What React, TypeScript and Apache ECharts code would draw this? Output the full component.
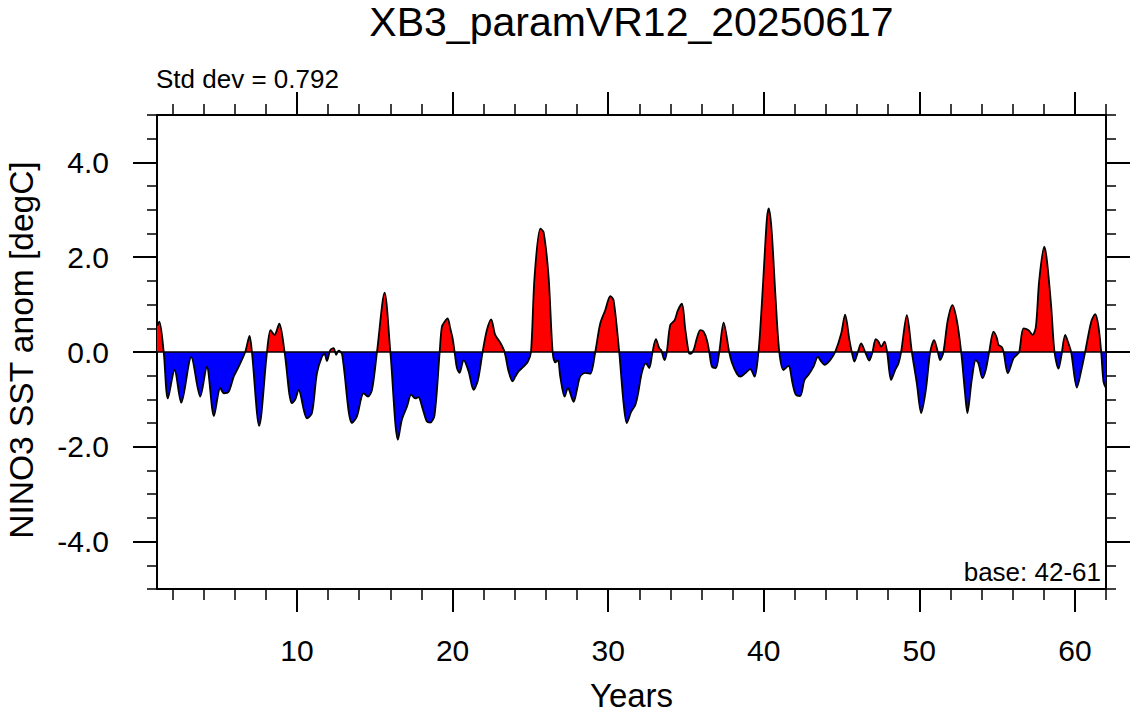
import React, { useEffect, useRef } from "react";
import * as echarts from "echarts";

// [year, NINO3 SST anomaly (degC)]
const nino3Anomaly: [number, number][] = [
  [1.0, 0.55], [1.15, 0.64], [1.43, 0], [1.7, -0.98], [2.13, -0.38], [2.56, -1.07],
  [3.2, -0.11], [3.78, -0.94], [4.2, -0.31], [4.66, -1.35], [5.07, -0.76], [5.3, -0.87],
  [5.6, -0.84], [5.93, -0.52], [6.25, -0.31], [6.67, 0], [6.95, 0.34], [7.1, 0],
  [7.57, -1.56], [8.07, 0], [8.3, 0.46], [8.55, 0.36], [8.86, 0.6], [9.2, 0],
  [9.67, -1.08], [9.89, -1.0], [10.1, -0.8], [10.64, -1.4], [10.96, -1.29], [11.28, -0.45],
  [11.6, -0.1], [11.77, -0.04], [11.92, -0.19], [12.14, 0.04], [12.35, 0.08], [12.52, -0.06],
  [12.67, 0.03], [12.89, -0.04], [13.53, -1.5], [13.85, -1.36], [14.28, -0.87], [14.56, -0.94],
  [14.82, -0.8], [15.14, 0], [15.63, 1.25], [16.0, 0], [16.49, -1.85], [16.74, -1.43],
  [17.07, -1.15], [17.34, -0.9], [17.6, -0.98], [17.8, -0.95], [18.07, -1.19], [18.35, -1.47],
  [18.56, -1.49], [18.84, -1.33], [19.17, 0], [19.31, 0.53], [19.49, 0.64], [19.68, 0.71],
  [19.85, 0.5], [20.0, 0.29], [20.13, 0], [20.28, -0.34], [20.45, -0.44], [20.71, -0.17],
  [21.03, -0.41], [21.35, -0.8], [21.63, -0.59], [21.93, 0], [22.2, 0.46], [22.48, 0.69],
  [22.74, 0.36], [23.06, 0.2], [23.34, 0], [23.6, -0.41], [23.86, -0.62], [24.03, -0.52],
  [24.24, -0.41], [24.56, -0.31], [24.84, -0.2], [25.04, 0], [25.27, 1.59], [25.64, 2.6],
  [25.85, 2.53], [26.17, 1.59], [26.43, 0], [26.6, -0.22], [26.77, -0.17], [26.92, -0.52],
  [27.2, -0.94], [27.41, -0.76], [27.78, -1.05], [27.99, -0.8], [28.2, -0.52], [28.53, -0.44],
  [28.85, -0.46], [29.17, 0], [29.49, 0.6], [29.81, 0.88], [30.14, 1.18], [30.35, 1.09],
  [30.71, 0], [30.99, -1.08], [31.2, -1.5], [31.48, -1.26], [31.74, -1.12], [31.91, -0.9],
  [32.17, -0.43], [32.43, -0.24], [32.64, -0.34], [32.85, 0], [33.07, 0.27], [33.28, 0.08],
  [33.41, 0.04], [33.62, -0.17], [33.77, 0], [33.99, 0.57], [34.27, 0.67], [34.48, 0.88],
  [34.74, 1.02], [34.95, 0.5], [35.17, 0], [35.27, -0.04], [35.49, 0.04], [35.7, 0.29],
  [35.92, 0.46], [36.13, 0.43], [36.35, 0.25], [36.5, 0], [36.67, -0.31], [36.92, -0.34],
  [37.14, 0], [37.42, 0.62], [37.78, 0], [37.95, -0.22], [38.27, -0.46], [38.49, -0.52],
  [38.81, -0.45], [39.13, -0.36], [39.41, -0.52], [39.66, 0], [39.8, 0.6], [40.0, 1.7],
  [40.2, 2.8], [40.32, 3.03], [40.5, 2.6], [40.75, 1.2], [41.0, 0], [41.27, -0.38],
  [41.59, -0.29], [41.85, -0.66], [42.06, -0.9], [42.34, -0.93], [42.62, -0.59], [42.88, -0.48],
  [43.2, -0.31], [43.48, -0.1], [43.69, -0.2], [43.91, -0.27], [44.27, -0.17], [44.59, 0],
  [44.98, 0.39], [45.23, 0.79], [45.51, 0.25], [45.66, 0], [45.83, -0.2], [46.05, 0],
  [46.26, 0.18], [46.52, 0], [46.78, -0.18], [46.99, 0], [47.2, 0.27], [47.37, 0.22],
  [47.55, 0.11], [47.76, 0.22], [47.93, 0], [48.19, -0.59], [48.45, -0.38], [48.66, -0.24],
  [48.83, 0], [49.2, 0.78], [49.52, 0], [49.84, -0.66], [50.12, -1.29], [50.42, -0.8],
  [50.7, 0], [50.95, 0.25], [51.19, 0], [51.34, -0.17], [51.55, 0], [51.83, 0.67],
  [52.13, 0.99], [52.41, 0.67], [52.69, 0], [52.94, -0.87], [53.09, -1.29], [53.37, -0.59],
  [53.63, -0.17], [53.8, -0.24], [54.06, -0.55], [54.27, -0.38], [54.49, 0], [54.77, 0.43],
  [54.98, 0.3], [55.09, 0.15], [55.31, 0.1], [55.42, 0], [55.69, -0.45], [56.06, -0.13],
  [56.27, -0.06], [56.42, 0], [56.7, 0.5], [57.02, 0.46], [57.28, 0.36], [57.49, 0.53],
  [57.71, 1.52], [58.03, 2.22], [58.2, 1.94], [58.48, 0.95], [58.69, 0], [58.95, -0.35],
  [59.12, -0.1], [59.38, 0.36], [59.59, 0.18], [59.76, 0], [60.13, -0.75], [60.41, -0.39],
  [60.66, 0], [61.05, 0.64], [61.31, 0.8], [61.52, 0.53], [61.69, 0], [61.84, -0.63],
  [62.0, -0.76],
];

const xMajorTicks = [10, 20, 30, 40, 50, 60];
const xMinorTicks = [2, 4, 6, 8, 10, 12, 14, 16, 18, 20, 22, 24, 26, 28, 30, 32, 34, 36, 38, 40, 42, 44, 46, 48, 50, 52, 54, 56, 58, 60, 62];
const yMajorTicks = [-4, -2, 0, 2, 4];

const titleText = "XB3_paramVR12_20250617";
const stdDevText = "Std dev = 0.792";
const baseText = "base: 42-61";
const xTitle = "Years";
const yTitle = "NINO3 SST anom [degC]";

const FONT = '"Liberation Sans", Arial, Helvetica, sans-serif';

export default function App() {
  const ref = useRef<HTMLDivElement>(null);
  useEffect(() => {
    if (!ref.current) return;
    const chart = echarts.init(ref.current, null, { renderer: "svg" });
    const black = "#000";
    const xBase = { type: "value", min: 1, max: 62, splitLine: { show: false }, gridIndex: 0 };
    const yBase = { type: "value", min: -5, max: 5, splitLine: { show: false }, gridIndex: 0 };
    const line = { show: true, onZero: false, lineStyle: { color: black, width: 2 } };
    const noLine = { show: false, onZero: false };
    const majorTick = (len: number, vals: number[]) => ({
      show: true, inside: false, length: len, customValues: vals, lineStyle: { color: black, width: 2 },
    });
    const minorTickCustom = (len: number, vals: number[]) => ({
      show: true, inside: false, length: len, customValues: vals, lineStyle: { color: black, width: 1.5 },
    });
    const option: any = {
      animation: false,
      backgroundColor: "#fff",
      grid: { left: 157, right: 31, top: 115, bottom: 125, containLabel: false },
      xAxis: [
        {
          ...xBase, position: "bottom", axisLine: line, axisTick: majorTick(23, xMajorTicks),
          axisLabel: {
            show: true, customValues: xMajorTicks, fontSize: 30, color: black, fontFamily: FONT, margin: 46,
          },
        },
        { ...xBase, position: "bottom", axisLine: noLine, axisTick: minorTickCustom(11, xMinorTicks), axisLabel: { show: false } },
        { ...xBase, position: "top", axisLine: line, axisTick: majorTick(23, xMajorTicks), axisLabel: { show: false } },
        { ...xBase, position: "top", axisLine: noLine, axisTick: minorTickCustom(11, xMinorTicks), axisLabel: { show: false } },
      ],
      yAxis: [
        {
          ...yBase, position: "left", axisLine: line, axisTick: majorTick(24, yMajorTicks),
          axisLabel: {
            show: true, customValues: yMajorTicks, fontSize: 30, color: black, fontFamily: FONT, margin: 48,
            formatter: (v: number) => v.toFixed(1),
          },
        },
        {
          ...yBase, position: "left", interval: 0.5, axisLine: noLine,
          axisTick: { show: true, inside: false, length: 10, lineStyle: { color: black, width: 1.5 } },
          axisLabel: { show: false },
        },
        { ...yBase, position: "right", axisLine: line, axisTick: majorTick(24, yMajorTicks), axisLabel: { show: false } },
        {
          ...yBase, position: "right", interval: 0.5, axisLine: noLine,
          axisTick: { show: true, inside: false, length: 10, lineStyle: { color: black, width: 1.5 } },
          axisLabel: { show: false },
        },
      ],
      series: [
        {
          id: "fill",
          type: "line",
          xAxisIndex: 0,
          yAxisIndex: 0,
          data: nino3Anomaly,
          smooth: 0.3,
          showSymbol: false,
          symbol: "none",
          lineStyle: { width: 0 },
          areaStyle: { opacity: 1, origin: 0, color: "#ff0000" },
          z: 2,
        },
        {
          type: "line",
          xAxisIndex: 0,
          yAxisIndex: 0,
          data: nino3Anomaly,
          smooth: 0.3,
          showSymbol: false,
          symbol: "none",
          lineStyle: { color: black, width: 1.8 },
          z: 4,
          markLine: {
            silent: true,
            symbol: "none",
            label: { show: false },
            lineStyle: { color: black, width: 1.6, type: "solid" },
            data: [{ yAxis: 0 }],
          },
        },
      ],
      graphic: [
        {
          type: "text", x: 631.5, y: 22,
          style: { text: titleText, font: `41px ${FONT}`, fill: black, textAlign: "center", textVerticalAlign: "middle" },
        },
        {
          type: "text", x: 156, y: 79,
          style: { text: stdDevText, font: `26px ${FONT}`, fill: black, textAlign: "left", textVerticalAlign: "middle" },
        },
        {
          type: "text", x: 1101, y: 572,
          style: { text: baseText, font: `26px ${FONT}`, fill: black, textAlign: "right", textVerticalAlign: "middle" },
        },
        {
          type: "text", x: 631.5, y: 695,
          style: { text: xTitle, font: `33px ${FONT}`, fill: black, textAlign: "center", textVerticalAlign: "middle" },
        },
        {
          type: "text", x: 21, y: 350, rotation: Math.PI / 2,
          style: { text: yTitle, font: `33.5px ${FONT}`, fill: black, textAlign: "center", textVerticalAlign: "middle" },
        },
      ],
    };
    chart.setOption(option);
    // red above zero, blue below: gradient split at the pixel of y = 0 from the y axis scale
    const yTop = chart.convertToPixel({ yAxisIndex: 0 }, 5) as number;
    const yBottom = chart.convertToPixel({ yAxisIndex: 0 }, -5) as number;
    const yZero = chart.convertToPixel({ yAxisIndex: 0 }, 0) as number;
    const f = (yZero - yTop) / (yBottom - yTop);
    chart.setOption({
      series: [
        {
          id: "fill",
          areaStyle: {
            opacity: 1,
            origin: 0,
            color: new echarts.graphic.LinearGradient(
              0, yTop, 0, yBottom,
              [
                { offset: 0, color: "#ff0000" },
                { offset: f, color: "#ff0000" },
                { offset: f, color: "#0000ff" },
                { offset: 1, color: "#0000ff" },
              ],
              true
            ),
          },
        },
      ],
    });
    return () => chart.dispose();
  }, []);
  return (
    <div
      ref={ref}
      style={{ position: "fixed", left: 0, top: 0, width: 1137, height: 714, background: "#fff" }}
    />
  );
}
